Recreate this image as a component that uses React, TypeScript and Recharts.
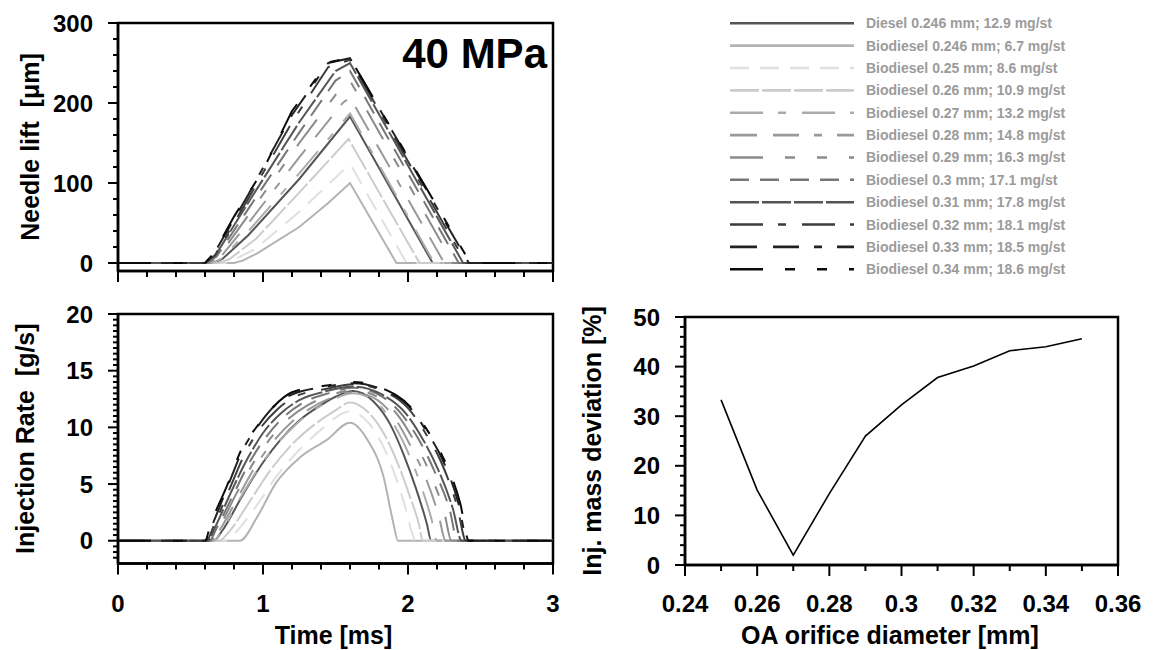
import React from "react";
import { LineChart, Line, XAxis, YAxis, ReferenceArea, Legend } from "recharts";

const FONT = "'Liberation Sans', Arial, Helvetica, sans-serif";

type Pt = [number, number];

// legend text, one per series (same order in both time plots)
const seriesLabels = [
  "Diesel 0.246 mm; 12.9 mg/st",
  "Biodiesel 0.246 mm; 6.7 mg/st",
  "Biodiesel 0.25 mm; 8.6 mg/st",
  "Biodiesel 0.26 mm; 10.9 mg/st",
  "Biodiesel 0.27 mm; 13.2 mg/st",
  "Biodiesel 0.28 mm; 14.8 mg/st",
  "Biodiesel 0.29 mm; 16.3 mg/st",
  "Biodiesel 0.3 mm; 17.1 mg/st",
  "Biodiesel 0.31 mm; 17.8 mg/st",
  "Biodiesel 0.32 mm; 18.1 mg/st",
  "Biodiesel 0.33 mm; 18.5 mg/st",
  "Biodiesel 0.34 mm; 18.6 mg/st",
];

const seriesColors = [
  "#555555", "#b3b3b3", "#e0e0e0", "#cccccc", "#ababab", "#999999",
  "#8a8a8a", "#777777", "#555555", "#3d3d3d", "#222222", "#0a0a0a",
];

const seriesDashes = [
  undefined, undefined, "19 11", "29 3", "33 15 8 16", "27 16 26 15 8 15",
  "33 22 10 22 10 22", "19 11", "29 3", "33 15 8 16", "27 16 26 15 8 15",
  "33 22 10 22 10 22",
];

// needle lift [um] vs time [ms]
const liftDiesel246: Pt[] = [[0, 0], [0.66, 0], [0.72, 5], [0.9, 35], [1.25, 105], [1.6, 183], [2.17, 0], [3, 0]];
const liftBio246: Pt[] = [[0, 0], [0.8, 0], [0.86, 3], [0.96, 12], [1.25, 45], [1.45, 75], [1.6, 100], [1.92, 0], [3, 0]];
const liftBio25: Pt[] = [[0, 0], [0.74, 0], [0.8, 4], [0.95, 18], [1.25, 64], [1.59, 122], [1.61, 121], [1.99, 0], [3, 0]];
const liftBio26: Pt[] = [[0, 0], [0.7, 0], [0.77, 5], [0.95, 30], [1.25, 88], [1.59, 155], [2.08, 0], [3, 0]];
const liftBio27: Pt[] = [[0, 0], [0.65, 0], [0.71, 5], [0.9, 40], [1.25, 112], [1.6, 187], [2.18, 0], [3, 0]];
const liftBio28: Pt[] = [[0, 0], [0.63, 0], [0.7, 6], [0.9, 50], [1.25, 132], [1.55, 200], [1.6, 207], [2.25, 0], [3, 0]];
const liftBio29: Pt[] = [[0, 0], [0.62, 0], [0.69, 7], [0.9, 60], [1.25, 150], [1.55, 222], [1.6, 228], [2.31, 0], [3, 0]];
const liftBio30: Pt[] = [[0, 0], [0.61, 0], [0.68, 8], [0.9, 68], [1.25, 163], [1.5, 228], [1.6, 240], [2.35, 0], [3, 0]];
const liftBio31: Pt[] = [[0, 0], [0.6, 0], [0.67, 9], [0.9, 76], [1.25, 176], [1.5, 240], [1.6, 250], [2.38, 0], [3, 0]];
const liftBio32: Pt[] = [[0, 0], [0.6, 0], [0.67, 10], [0.9, 81], [1.2, 176], [1.45, 245], [1.6, 254], [2.4, 0], [3, 0]];
const liftBio33: Pt[] = [[0, 0], [0.6, 0], [0.66, 11], [0.9, 86], [1.2, 185], [1.45, 250], [1.6, 256], [2.42, 0], [3, 0]];
const liftBio34: Pt[] = [[0, 0], [0.6, 0], [0.66, 12], [0.8, 58], [1.0, 116], [1.2, 190], [1.45, 251], [1.6, 256], [2.43, 0], [3, 0]];

// injection rate [g/s] vs time [ms]
const rateDiesel246: Pt[] = [[0, 0], [0.66, 0], [0.72, 0.9], [0.85, 3.8], [1.0, 6.9], [1.12, 8.9], [1.25, 10.6], [1.38, 11.8], [1.5, 12.7], [1.62, 13.2], [1.76, 12.3], [1.88, 10.2], [1.97, 7.6], [2.05, 4.8], [2.13, 1.5], [2.16, 0], [3, 0]];
const rateBio246: Pt[] = [[0, 0], [0.84, 0], [0.96, 2.1], [1.09, 5.1], [1.26, 7.4], [1.44, 8.9], [1.6, 10.4], [1.72, 8.9], [1.83, 5.7], [1.9, 1.5], [1.93, 0], [3, 0]];
const rateBio25: Pt[] = [[0, 0], [0.74, 0], [0.8, 0.6], [0.95, 3.0], [1.1, 5.8], [1.25, 8.0], [1.4, 9.8], [1.6, 11.4], [1.72, 10.5], [1.83, 8.3], [1.91, 5.8], [1.98, 3.0], [2.03, 0.6], [2.05, 0], [3, 0]];
const rateBio26: Pt[] = [[0, 0], [0.7, 0], [0.76, 0.7], [0.9, 3.3], [1.05, 6.2], [1.2, 8.5], [1.35, 10.2], [1.5, 11.5], [1.6, 12.2], [1.72, 11.4], [1.84, 9.3], [1.93, 6.8], [2.01, 4.0], [2.08, 1.2], [2.1, 0], [3, 0]];
const rateBio27: Pt[] = [[0, 0], [0.66, 0], [0.71, 0.8], [0.84, 3.7], [0.98, 6.6], [1.1, 8.6], [1.23, 10.3], [1.36, 11.6], [1.49, 12.5], [1.62, 13.0], [1.78, 12.2], [1.9, 10.3], [2.0, 7.8], [2.08, 5.2], [2.16, 2.0], [2.2, 0], [3, 0]];
const rateBio28: Pt[] = [[0, 0], [0.65, 0], [0.7, 0.9], [0.83, 3.9], [0.96, 6.8], [1.08, 8.9], [1.2, 10.5], [1.33, 11.7], [1.47, 12.6], [1.62, 13.1], [1.79, 12.4], [1.92, 10.6], [2.02, 8.3], [2.12, 5.6], [2.21, 2.3], [2.26, 0], [3, 0]];
const rateBio29: Pt[] = [[0, 0], [0.64, 0], [0.69, 1.0], [0.81, 4.0], [0.94, 7.0], [1.05, 9.0], [1.18, 10.8], [1.3, 11.9], [1.46, 12.8], [1.62, 13.3], [1.8, 12.6], [1.94, 10.9], [2.05, 8.6], [2.15, 6.0], [2.25, 2.5], [2.3, 0], [3, 0]];
const rateBio30: Pt[] = [[0, 0], [0.63, 0], [0.68, 1.1], [0.8, 4.2], [0.92, 7.2], [1.03, 9.3], [1.15, 11.0], [1.28, 12.2], [1.45, 13.0], [1.62, 13.5], [1.81, 12.8], [1.96, 11.1], [2.08, 8.8], [2.18, 6.2], [2.29, 2.6], [2.34, 0], [3, 0]];
const rateBio31: Pt[] = [[0, 0], [0.62, 0], [0.67, 1.2], [0.78, 4.3], [0.9, 7.4], [1.0, 9.5], [1.12, 11.2], [1.25, 12.4], [1.44, 13.2], [1.62, 13.6], [1.82, 12.9], [1.98, 11.3], [2.1, 9.0], [2.2, 6.5], [2.31, 2.8], [2.37, 0], [3, 0]];
const rateBio32: Pt[] = [[0, 0], [0.61, 0], [0.66, 1.3], [0.77, 4.6], [0.88, 7.8], [0.98, 9.9], [1.1, 11.6], [1.22, 12.7], [1.44, 13.4], [1.62, 13.8], [1.83, 13.2], [2.0, 11.7], [2.12, 9.5], [2.23, 6.9], [2.34, 3.0], [2.4, 0], [3, 0]];
const rateBio33: Pt[] = [[0, 0], [0.6, 0], [0.65, 1.4], [0.76, 4.9], [0.86, 8.0], [0.97, 10.2], [1.08, 11.9], [1.2, 12.9], [1.44, 13.6], [1.62, 13.9], [1.83, 13.3], [2.01, 11.8], [2.13, 9.6], [2.24, 7.1], [2.35, 3.2], [2.41, 0], [3, 0]];
const rateBio34: Pt[] = [[0, 0], [0.6, 0], [0.64, 1.5], [0.75, 4.8], [0.85, 8.0], [0.96, 10.1], [1.07, 11.8], [1.2, 13.1], [1.44, 13.7], [1.62, 14.0], [1.83, 13.4], [2.01, 11.9], [2.13, 9.8], [2.24, 7.4], [2.36, 3.3], [2.42, 0], [3, 0]];

// mass deviation vs orifice diameter
const orificeDiameters = [0.25, 0.26, 0.27, 0.28, 0.29, 0.3, 0.31, 0.32, 0.33, 0.34, 0.35];
const massDeviation = [33.3, 15.1, 2.0, 14.4, 26.0, 32.3, 37.8, 40.1, 43.2, 44.0, 45.6];

// ticks
const timeMajor = [0, 1, 2, 3];
const timeMinor = [0.2, 0.4, 0.6, 0.8, 1.2, 1.4, 1.6, 1.8, 2.2, 2.4, 2.6, 2.8];
const liftMajor = [0, 100, 200, 300];
const liftMinor = [20, 40, 60, 80, 120, 140, 160, 180, 220, 240, 260, 280];
const rateMajor = [0, 5, 10, 15, 20];
const rateMinor = [
  -1.5, -1, -0.5, 0.5, 1, 1.5, 2, 2.5, 3, 3.5, 4, 4.5, 5.5, 6, 6.5, 7, 7.5, 8, 8.5, 9, 9.5,
  10.5, 11, 11.5, 12, 12.5, 13, 13.5, 14, 14.5, 15.5, 16, 16.5, 17, 17.5, 18, 18.5, 19, 19.5,
];
const devMajor = [0, 10, 20, 30, 40, 50];
const devMinor = [2, 4, 6, 8, 12, 14, 16, 18, 22, 24, 26, 28, 32, 34, 36, 38, 42, 44, 46, 48];
const diamMajor = [0.24, 0.26, 0.28, 0.3, 0.32, 0.34, 0.36];
const diamMinor = [0.25, 0.27, 0.29, 0.31, 0.33, 0.35];

const liftSeries = [liftDiesel246, liftBio246, liftBio25, liftBio26, liftBio27, liftBio28, liftBio29, liftBio30, liftBio31, liftBio32, liftBio33, liftBio34];
const rateSeries = [rateDiesel246, rateBio246, rateBio25, rateBio26, rateBio27, rateBio28, rateBio29, rateBio30, rateBio31, rateBio32, rateBio33, rateBio34];

const toPoints = (arr: Pt[]) => arr.map(([t, v]) => ({ t, v }));
const merge = (a: number[], b: number[]) => [...a, ...b].sort((p, q) => p - q);
const deviationData = orificeDiameters.map((d, i) => ({ d, dev: massDeviation[i] }));

const AXIS = { stroke: "#000", strokeWidth: 2.5 };

function xTick(majors: number[], labelDy: number | null) {
  return (props: any) => {
    const { x, y, payload } = props;
    const major = majors.includes(payload.value);
    return (
      <g>
        <line x1={x} y1={y} x2={x} y2={y + (major ? 11 : 6)} stroke="#000" strokeWidth={2} />
        {major && labelDy !== null ? (
          <text x={x} y={y + labelDy} textAnchor="middle" fontFamily={FONT} fontWeight="bold" fontSize={24} fill="#000">
            {String(payload.value)}
          </text>
        ) : null}
      </g>
    );
  };
}

function yTick(majors: number[]) {
  return (props: any) => {
    const { x, y, payload } = props;
    const major = majors.includes(payload.value);
    return (
      <g>
        <line x1={x} y1={y} x2={x - (major ? 10 : 5)} y2={y} stroke="#000" strokeWidth={2} />
        {major ? (
          <text x={x - 25} y={y + 8.5} textAnchor="end" fontFamily={FONT} fontWeight="bold" fontSize={24} fill="#000">
            {String(payload.value)}
          </text>
        ) : null}
      </g>
    );
  };
}

function yTitle(text: string, baselineX: number) {
  return (props: any) => {
    const vb = props.viewBox;
    const cy = vb.y + vb.height / 2;
    return (
      <text x={baselineX} y={cy} transform={`rotate(-90 ${baselineX} ${cy})`} textAnchor="middle"
        fontFamily={FONT} fontWeight="bold" fontSize={25} fill="#000" style={{ whiteSpace: "pre" }}>
        {text}
      </text>
    );
  };
}

function xTitle(text: string, dx: number, dy: number) {
  return (props: any) => {
    const vb = props.viewBox;
    return (
      <text x={vb.x + vb.width / 2 + dx} y={vb.y + dy} textAnchor="middle"
        fontFamily={FONT} fontWeight="bold" fontSize={25} fill="#000">
        {text}
      </text>
    );
  };
}

const pressureLabel = (props: any) => {
  const vb = props.viewBox;
  return (
    <text x={vb.x + vb.width - 6} y={vb.y + 45} textAnchor="end" fontFamily={FONT} fontWeight="bold" fontSize={42} fill="#000">
      40 MPa
    </text>
  );
};

const renderLegend = () => (
  <svg width={427} height={290} style={{ display: "block" }}>
    {seriesLabels.map((label, i) => {
      const y = 23.3 + i * 22.36;
      return (
        <g key={label}>
          <line x1={3} x2={127} y1={y} y2={y} stroke={seriesColors[i]} strokeWidth={2.6} strokeDasharray={seriesDashes[i]} />
          <text x={139} y={y + 5} fontFamily={FONT} fontWeight="bold" fontSize={14} fill="#9b9b9b">
            {label}
          </text>
        </g>
      );
    })}
  </svg>
);

export default function App() {
  return (
    <div style={{ position: "absolute", left: 0, top: 0, width: 1154, height: 650, background: "#fff" }}>
      {/* needle lift */}
      <div style={{ position: "absolute", left: 0, top: 0 }}>
        <LineChart width={1154} height={290} margin={{ top: 23, right: 601, bottom: 0, left: 0 }}>
          <XAxis type="number" dataKey="t" domain={[0, 3]} ticks={merge(timeMajor, timeMinor)} interval={0}
            tick={xTick(timeMajor, null)} tickLine={false} tickSize={0} tickMargin={0} height={19}
            axisLine={AXIS} allowDataOverflow />
          <YAxis type="number" domain={[-10, 300]} ticks={merge(liftMajor, liftMinor)} interval={0}
            tick={yTick(liftMajor)} tickLine={false} tickSize={0} tickMargin={0} width={118}
            axisLine={AXIS} allowDataOverflow label={yTitle("Needle lift  [\u03bcm]", 39)} />
          <ReferenceArea x1={0} x2={3} y1={-10} y2={300} fill="none" fillOpacity={0} stroke="#000" strokeWidth={2.5}
            label={pressureLabel} ifOverflow="visible" />
          {liftSeries.map((s, i) => (
            <Line key={seriesLabels[i]} data={toPoints(s)} dataKey="v" name={seriesLabels[i]} type="linear"
              stroke={seriesColors[i]} strokeWidth={2} strokeDasharray={seriesDashes[i]} dot={false}
              isAnimationActive={false} />
          ))}
          <Legend layout="vertical" align="center" verticalAlign="middle" content={renderLegend}
            wrapperStyle={{ left: 727, top: 0, width: 427, height: 290 }} />
        </LineChart>
      </div>

      {/* injection rate */}
      <div style={{ position: "absolute", left: 0, top: 290 }}>
        <LineChart width={560} height={360} margin={{ top: 24, right: 7, bottom: 0, left: 0 }}>
          <XAxis type="number" dataKey="t" domain={[0, 3]} ticks={merge(timeMajor, timeMinor)} interval={0}
            tick={xTick(timeMajor, 49)} tickLine={false} tickSize={0} tickMargin={0} height={86.6}
            axisLine={AXIS} allowDataOverflow label={xTitle("Time [ms]", -2, 80.6)} />
          <YAxis type="number" domain={[-2, 20]} ticks={merge(rateMajor, rateMinor)} interval={0}
            tick={yTick(rateMajor)} tickLine={false} tickSize={0} tickMargin={0} width={118}
            axisLine={AXIS} allowDataOverflow label={yTitle("Injection Rate  [g/s]", 34)} />
          <ReferenceArea x1={0} x2={3} y1={-2} y2={20} fill="none" fillOpacity={0} stroke="#000" strokeWidth={2.5}
            ifOverflow="visible" />
          {rateSeries.map((s, i) => (
            <Line key={seriesLabels[i]} data={toPoints(s)} dataKey="v" name={seriesLabels[i]} type="monotone"
              stroke={seriesColors[i]} strokeWidth={2} strokeDasharray={seriesDashes[i]} dot={false}
              isAnimationActive={false} />
          ))}
        </LineChart>
      </div>

      {/* mass deviation */}
      <div style={{ position: "absolute", left: 560, top: 290 }}>
        <LineChart width={594} height={360} data={deviationData} margin={{ top: 27, right: 36, bottom: 0, left: 0 }}>
          <XAxis type="number" dataKey="d" domain={[0.24, 0.36]} ticks={merge(diamMajor, diamMinor)} interval={0}
            tick={xTick(diamMajor, 47)} tickLine={false} tickSize={0} tickMargin={0} height={85}
            axisLine={AXIS} allowDataOverflow label={xTitle("OA orifice diameter [mm]", -11.5, 79)} />
          <YAxis type="number" domain={[0, 50]} ticks={merge(devMajor, devMinor)} interval={0}
            tick={yTick(devMajor)} tickLine={false} tickSize={0} tickMargin={0} width={125}
            axisLine={AXIS} allowDataOverflow label={yTitle("Inj. mass deviation [%]", 41)} />
          <ReferenceArea x1={0.24} x2={0.36} y1={0} y2={50} fill="none" fillOpacity={0} stroke="#000" strokeWidth={2.5}
            ifOverflow="visible" />
          <Line dataKey="dev" type="linear" stroke="#000" strokeWidth={1.6} dot={false} isAnimationActive={false} />
        </LineChart>
      </div>
    </div>
  );
}
